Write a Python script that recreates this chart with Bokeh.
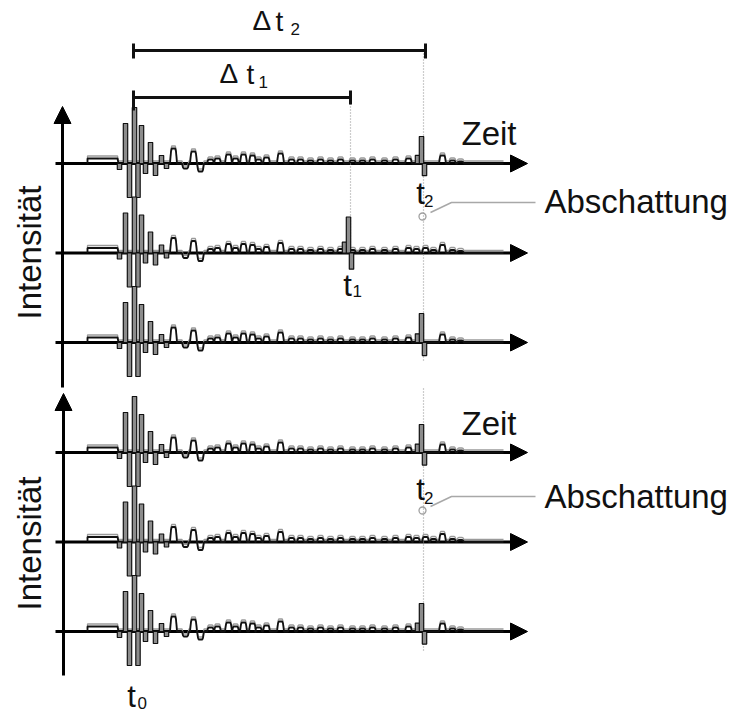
import numpy as np
from bokeh.plotting import figure
from bokeh.models import Range1d, Arrow, NormalHead
from bokeh.core.properties import value
from bokeh.embed import file_html
from bokeh.resources import INLINE

# ---------------- data (time relative to t0, amplitude in a.u.) ----------------
t1 = 217
t2 = 290

# pre-trigger level
pre_t = [-46, -16]
pre_a = [5, 5]

# transmitted burst at t0 (narrow spikes)
burst_t = [-14, -8, -4, 1, 4.5, 8, 12, 17, 22, 28, 33]
burst_a = [-6, 40, -34, 56, -34, 38, -10, 21, -12, 8, -5]

# decaying coda humps after the burst
coda_t = [40, 52, 60, 67, 77, 84, 95, 102, 110, 119, 125, 133, 147, 158,
          167, 177, 187, 197, 207, 219, 229, 239, 251, 262, 275]
coda_a = [15, -5, 12, -8, 4, 5, 9, 5, 9, 8, 4, 6, 10, 4,
          4, 3, 4, 3, 4, 3, 3, 4, 3, 4, 5]

# small humps left in the t2 region when the echo is shadowed
shadow_t = [283, 292, 300]
shadow_a = [4, 5, 3]

# humps after the t2 region
late_t = [309, 319, 327]
late_a = [8, 3, 2]

# echo shape (offsets from echo time, relative amplitude)
echo_dt = [-6, -2, 1]
echo_rel = [0.3, 1.0, -0.45]

# six measurements: echo time and amplitude (None = shadowed, "Abschattung")
trace_echo_time = [t2, t1, t2, t2, None, t2]
trace_echo_amp = [27, 36, 29, 28, 0, 28]
trace_group = [0, 0, 0, 1, 1, 1]
trace_row = [0, 1, 2, 0, 1, 2]

# ---------------- figure ----------------
X0 = 133  # pixel column of t0
TDY = 10  # text baseline correction (px)


def X(px):
    return px - X0


def Y(py):
    return -py


p = figure(width=743, height=715, x_range=Range1d(-X0, 743 - X0),
           y_range=Range1d(-715, 0), min_border=0, toolbar_location=None,
           output_backend="svg", x_axis_location=None, y_axis_location=None)
p.grid.visible = False
p.outline_line_color = None
p.background_fill_color = "white"
p.border_fill_color = "white"

FONT = value("Liberation Sans")


def hump(tc, a, w=7.0):
    return ([tc - w / 2, tc - w / 2 + 1, tc - w / 4, tc + w / 4, tc + w / 2 - 1, tc + w / 2],
            [0, a * 0.8, a, a, a * 0.8, 0])


base_positions = []
for g, r in zip(trace_group, trace_row):
    base_positions.append(Y(163 + 89.5 * r + 289 * g))

# axes arrows (drawn under traces)
for b in base_positions:
    ar = Arrow(end=NormalHead(size=17, fill_color="black", line_color="black"),
               x_start=X(55), y_start=b, x_end=X(527), y_end=b,
               line_width=3, line_color="black", level="underlay")
    p.add_layout(ar)
up_axis = Arrow(end=NormalHead(size=17, fill_color="black", line_color="black"),
                x_start=X(62), y_start=Y(387), x_end=X(62), y_end=Y(106),
                line_width=3, line_color="black", level="underlay")
lo_axis = Arrow(end=NormalHead(size=17, fill_color="black", line_color="black"),
                x_start=X(63), y_start=Y(675), x_end=X(63), y_end=Y(393),
                line_width=3, line_color="black", level="underlay")
p.add_layout(up_axis)
p.add_layout(lo_axis)

# dotted guide lines
DOT = dict(line_color="#9a9a9a", line_dash="1 2", line_width=1.2)
p.segment(x0=[t1], y0=[Y(97)], x1=[t1], y1=[Y(262)], **DOT)
p.segment(x0=[t2], y0=[Y(50)], x1=[t2], y1=[Y(362)], **DOT)
p.segment(x0=[t2], y0=[Y(388)], x1=[t2], y1=[Y(652)], **DOT)

# traces
for b, et, ea in zip(base_positions, trace_echo_time, trace_echo_amp):
    items = list(zip(coda_t, coda_a)) + list(zip(late_t, late_a))
    if et != t2:
        items += list(zip(shadow_t, shadow_a))
    items.sort()
    xs = [pre_t[0], pre_t[0], pre_t[1], pre_t[1] + 1, 36]
    ys = [0, pre_a[0], pre_a[1], 0, 0]
    for tc, a in items:
        hxx, hyy = hump(tc, a)
        xs += hxx
        ys += hyy
    xs += [370]
    ys += [0]
    ys_b = [b + v for v in ys]
    p.line(xs, [v + 2.5 for v in ys_b], line_color="#9a9a9a", line_width=1.3)
    p.line(xs, ys_b, line_color="#111111", line_width=1.8)

    st = list(burst_t)
    sa = list(burst_a)
    if et is not None:
        st += [et + d for d in echo_dt]
        sa += [ea * r for r in echo_rel]
    left = [t - 2.2 for t in st]
    right = [t + 2.2 for t in st]
    top = [b + max(a, 0) for a in sa]
    bottom = [b + min(a, 0) for a in sa]
    p.quad(left=left, right=right, top=top, bottom=bottom,
           fill_color="#8c8c8c", line_color="#111111", line_width=1.2)

# delta-t brackets
BR = dict(line_color="#111111", line_width=3)
p.segment(x0=[0, 0], y0=[Y(50), Y(97)], x1=[t2 + 2, t1], y1=[Y(50), Y(97)], **BR)
p.segment(x0=[0, t2 + 2, 0, t1], y0=[Y(43), Y(43), Y(90), Y(90)],
          x1=[0, t2 + 2, 0, t1], y1=[Y(58), Y(58), Y(110), Y(104)], **BR)

# Abschattung markers
for cy in (216, 510):
    p.scatter([t2 - 1], [Y(cy)], marker="circle", size=7, fill_alpha=0,
              line_color="#a0a0a0", line_width=1.3)
    p.line([X(430), X(451), X(535)], [Y(cy - 4), Y(cy - 14), Y(cy - 14)],
           line_color="#a8a8a8", line_width=1.5)


# texts
def txt(xs, ys, texts, size, align="left", angle=0.0):
    p.text(x=xs, y=ys, text=texts, text_font=FONT, text_font_size=value(size),
           text_align=align, text_baseline="alphabetic", text_color="#111111",
           angle=angle)


def ty(py):
    return Y(py - TDY)


txt([X(252), X(219)], [ty(30), ty(83)], ["\u0394", "\u0394"], "28px")
txt([X(275), X(246)], [ty(31), ty(84)], ["t", "t"], "28px")
txt([X(290), X(258)], [ty(38), ty(91)], ["2", "1"], "17px")

txt([X(461), X(461)], [ty(143), ty(433)], ["Zeit", "Zeit"], "33px")
txt([X(544), X(544)], [ty(211), ty(506)], ["Abschattung", "Abschattung"], "33px")
txt([X(41 - TDY - 2), X(41 - TDY - 2)], [Y(252), Y(543)], ["Intensität", "Intensität"], "33px",
    align="center", angle=np.pi / 2)

# t labels
txt([t2 - 3, t2 - 3, t1 - 3, -2], [ty(203), ty(499), ty(295), ty(706)],
    ["t", "t", "t", "t"], "31px", align="center")
txt([t2 + 0.5, t2 + 0.5, t1 + 2, 4], [ty(210), ty(507), ty(300), ty(712)],
    ["2", "2", "1", "0"], "17px")

open("out.html", "w").write(file_html(p, INLINE))
